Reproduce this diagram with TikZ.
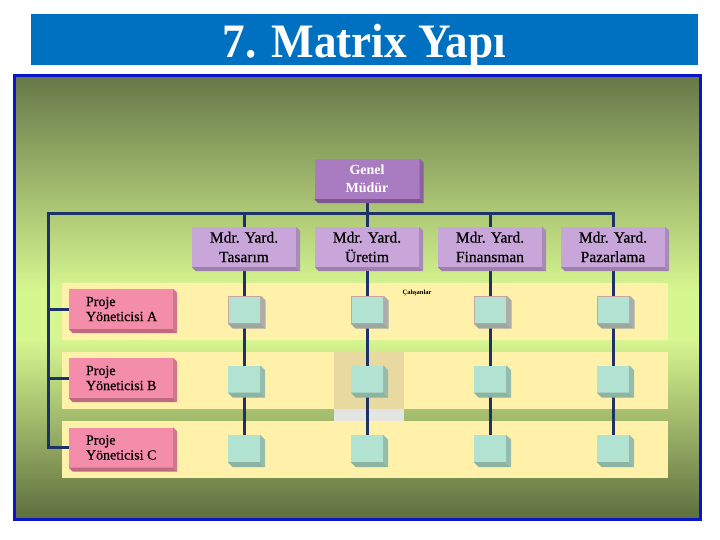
\documentclass[tikz,border=0pt]{standalone}
\usepackage{fontspec}
\setmainfont{Liberation Serif}
\newfontfamily\titlefont[FakeStretch=0.94]{Liberation Serif}
\newfontfamily\boxfont[FakeBold=0.6]{Liberation Serif}
\definecolor{titleblue}{HTML}{0070C0}
\definecolor{framecol}{HTML}{0A14C8}
\definecolor{bgdark}{HTML}{667848}
\definecolor{bglight}{HTML}{D6F690}
\definecolor{bgdarkb}{HTML}{5E6E3E}
\definecolor{bandcol}{HTML}{FFF1AA}
\definecolor{tancol}{HTML}{E8D9A0}
\definecolor{graycol}{HTML}{E4E4E2}
\definecolor{navy}{HTML}{1C3268}
\definecolor{gmface}{HTML}{A97BC1}
\definecolor{gmright}{HTML}{8A609E}
\definecolor{gmbottom}{HTML}{7E5592}
\definecolor{mdrface}{HTML}{C9A6D9}
\definecolor{mdrright}{HTML}{A98BB8}
\definecolor{mdrbottom}{HTML}{9E7FAD}
\definecolor{pmface}{HTML}{F48DA9}
\definecolor{pmright}{HTML}{D07890}
\definecolor{pmbottom}{HTML}{C06A82}
\definecolor{cellface}{HTML}{B2E2D2}
\definecolor{cellright}{HTML}{96BCAE}
\definecolor{cellbottom}{HTML}{8CB4A0}
\definecolor{cellrightg}{HTML}{A9AEAA}
\definecolor{cellbottomg}{HTML}{9FA6A0}
\definecolor{celledge}{HTML}{C8A8A0}
\newcommand\mybevel[4]{%
  \fill[#3] (#1.north east) -- ++(#2,#2) -- ([shift={(#2,#2)}]#1.south east) -- (#1.south east) -- cycle;
  \fill[#4] (#1.south west) -- ([shift={(#2,#2)}]#1.south west) -- ([shift={(#2,#2)}]#1.south east) -- (#1.south east) -- cycle;}
\begin{document}
\begin{tikzpicture}[x=1pt,y=-1pt,
  conn/.style={draw=navy, line width=3pt},
  gmbox/.style={fill=gmface, inner sep=0pt, minimum width=105pt, minimum height=40pt, align=center, text=white, font=\bfseries\fontsize{14}{18}\selectfont},
  mdrbox/.style={fill=mdrface, inner sep=0pt, minimum width=104pt, minimum height=40pt, align=center, font=\boxfont\fontsize{15.5}{19.5}\selectfont},
  pmbox/.style={fill=pmface, inner sep=0pt, minimum width=104pt, minimum height=40pt},
  pmtext/.style={inner sep=0pt, align=left, anchor=west, font=\boxfont\fontsize{14}{15}\selectfont},
  cellbox/.style={fill=cellface, inner sep=0pt, minimum width=32pt, minimum height=27pt},
  band/.style={fill=bandcol}]
\useasboundingbox (0,0) rectangle (720,540);
\fill[white] (0,0) rectangle (720,540);
% title
\fill[titleblue] (31,14) rectangle (698,65);
\node[anchor=base, text=white, inner sep=0pt, font=\titlefont\bfseries\fontsize{48}{50}\selectfont] (title) at (364.5,58) {7. Matrix Yapı};
% background
\fill[top color=bgdark, bottom color=bglight] (14,76) rectangle (700,290);
\fill[bglight] (14,289.5) rectangle (700,340.5);
\fill[top color=bglight, bottom color=bgdarkb] (14,340) rectangle (700,519);
% row bands
\fill[band] (62,283) rectangle (668,340);
\fill[band] (62,352) rectangle (668,409);
\fill[band] (62,421) rectangle (668,478);
\fill[tancol] (334,352) rectangle (404,409);
\fill[graycol] (334,409) rectangle (404,421);
% nodes
\node[gmbox] (gm) at (367,179) {Genel\\Müdür};
\node[mdrbox] (m1) at (244,247) {Mdr. Yard.\\Tasarım};
\node[mdrbox] (m2) at (367,247) {Mdr. Yard.\\Üretim};
\node[mdrbox] (m3) at (490,247) {Mdr. Yard.\\Finansman};
\node[mdrbox] (m4) at (613,247) {Mdr. Yard.\\Pazarlama};
\node[pmbox] (pa) at (121,309) {};
\node[pmbox] (pb) at (121,378) {};
\node[pmbox] (pc) at (121,447.5) {};
% connectors
\coordinate (busL) at (48,214);
\coordinate (busR) at (m4.north |- busL);
\draw[conn] (pc.west) -| (busL) -- (busR) -- (m4.north);
\draw[conn] (busL |- pa.west) -- (pa.west);
\draw[conn] (busL |- pb.west) -- (pb.west);
\draw[conn] (gm.south) -- (gm.south |- busL);
\foreach \i in {1,2,3} {\draw[conn] (m\i.north |- busL) -- (m\i.north);}
\foreach \x [count=\i] in {244,367,490,613} {
  \foreach \y [count=\j] in {309.5,379,448.5} {
    \coordinate (p\i\j) at (\x,\y);
  }
  \draw[conn] (m\i.south) -- (p\i3);
}
% redraw box over line
\node[gmbox] at (gm) {Genel\\Müdür};
\mybevel{gm}{4}{gmright}{gmbottom}
\foreach \i in {1,2,3,4} {\mybevel{m\i}{4}{mdrright}{mdrbottom}}
\foreach \p in {pa,pb,pc} {\mybevel{\p}{4}{pmright}{pmbottom}}
\node[pmtext] (pat) at ([xshift=17pt]pa.west) {Proje\\Yöneticisi A};
\node[pmtext] (pbt) at ([xshift=17pt]pb.west) {Proje\\Yöneticisi B};
\node[pmtext] (pct) at ([xshift=17pt]pc.west) {Proje\\Yöneticisi C};
% cells
\foreach \i in {1,2,3,4} {
  \node[cellbox, draw=celledge, line width=1pt] (c\i1) at (p\i1) {};
  \mybevel{c\i1}{5}{cellrightg}{cellbottomg}
  \foreach \j in {2,3} {
    \node[cellbox] (c\i\j) at (p\i\j) {};
    \mybevel{c\i\j}{5}{cellright}{cellbottom}
  }
}
\node[inner sep=0pt, font=\bfseries\fontsize{6.5}{7}\selectfont] (cal) at (417,293) {Çalışanlar};
% frame
\draw[framecol, line width=3pt] (14,76) rectangle (700,519);
\end{tikzpicture}
\end{document}
